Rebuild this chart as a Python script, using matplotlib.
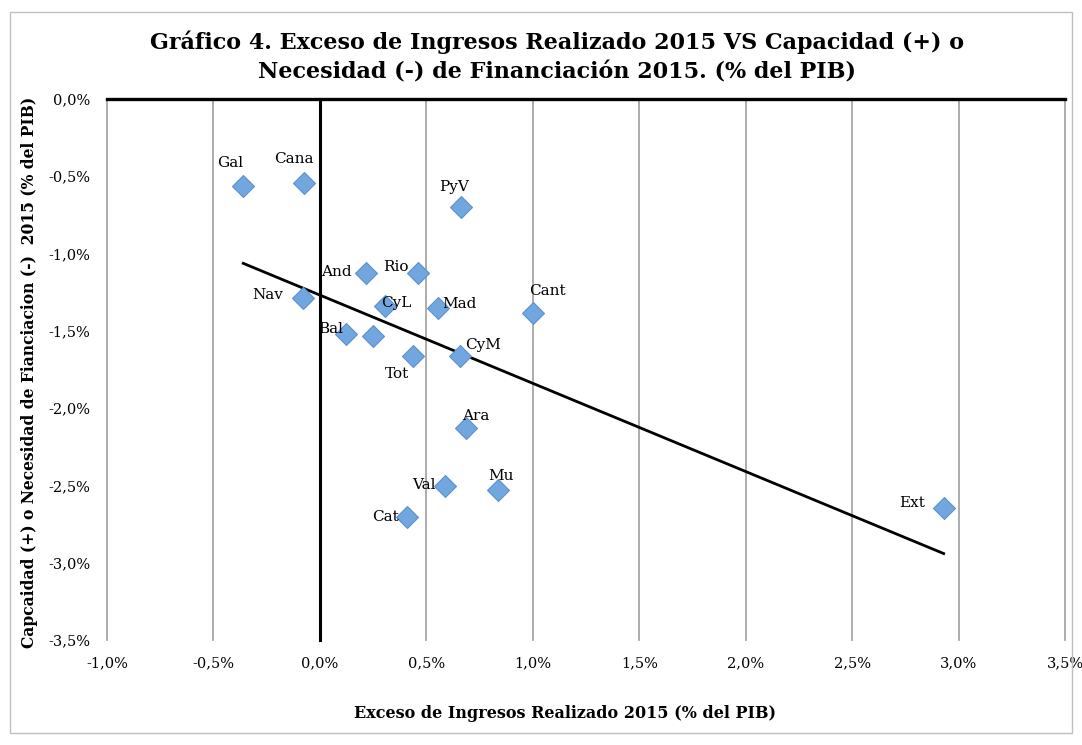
import numpy as np
import matplotlib
matplotlib.use("Agg")
import matplotlib.pyplot as plt
from matplotlib.ticker import FuncFormatter, MultipleLocator
from matplotlib.patches import Rectangle

# ---- data (% del PIB) ----
regions = ["Gal", "Cana", "PyV", "And", "Rio", "Nav", "CyL", "Mad", "Cant",
           "Bal", "", "Tot", "CyM", "Ara", "Val", "Mu", "Cat", "Ext"]
exceso = [-0.36, -0.075, 0.662, 0.216, 0.460, -0.080, 0.305, 0.554, 1.000,
          0.122, 0.249, 0.437, 0.657, 0.685, 0.587, 0.836, 0.408, 2.930]
capnec = [-0.563, -0.543, -0.699, -1.126, -1.126, -1.287, -1.339, -1.352, -1.384,
          -1.520, -1.533, -1.663, -1.663, -2.128, -2.504, -2.530, -2.704, -2.646]

x_ticks = [-1.0, -0.5, 0.0, 0.5, 1.0, 1.5, 2.0, 2.5, 3.0, 3.5]
y_ticks = [0.0, -0.5, -1.0, -1.5, -2.0, -2.5, -3.0, -3.5]

title = ("Gráfico 4. Exceso de Ingresos Realizado 2015 VS Capacidad (+) o\n"
         "Necesidad (-) de Financiación 2015. (% del PIB)")
xlabel = "Exceso de Ingresos Realizado 2015 (% del PIB)"
ylabel = "Capcaidad (+) o Necesidad de Fianciacion (-)  2015 (% del PIB)"

# label placement (pixel offsets, alignment) — styling only
label_pos = {
    "Gal": (-13, 23, "center"), "Cana": (-10, 24, "center"), "PyV": (-7, 20, "center"),
    "And": (-14, 1, "right"), "Rio": (-9, 6, "right"), "Nav": (-20, 3, "right"),
    "CyL": (-4, 3, "left"), "Mad": (4, 4, "left"), "Cant": (15, 22, "center"),
    "Bal": (-3, 5, "right"), "Tot": (-16, -18, "center"), "CyM": (23, 11, "center"),
    "Ara": (10, 12, "center"), "Val": (-9, 1, "right"), "Mu": (3, 14, "center"),
    "Cat": (-8, 0, "right"), "Ext": (-19, 5, "right"),
}

plt.rcParams['font.family'] = ['serif']
plt.rcParams['font.serif'] = ['DejaVu Serif']

fig = plt.figure(figsize=(10.82, 7.45), dpi=100)
ax = fig.add_axes([107/1082, 1-640/745, (1065-107)/1082, (640-99)/745])

fig.patches.append(Rectangle((10/1082, 12/745), (1072-10)/1082, (733-12)/745,
                             transform=fig.transFigure, fill=False,
                             edgecolor="#bfbfbf", lw=1.0, zorder=0))

ax.set_xlim(x_ticks[0], x_ticks[-1])
ax.set_ylim(y_ticks[-1], y_ticks[0])
ax.xaxis.set_major_locator(MultipleLocator(0.5))
ax.yaxis.set_major_locator(MultipleLocator(0.5))
fmt = FuncFormatter(lambda v, p: f"{v:.1f}%".replace(".", ",").replace("−", "-"))
ax.xaxis.set_major_formatter(fmt)
ax.yaxis.set_major_formatter(fmt)
for s in ax.spines.values():
    s.set_visible(False)
ax.tick_params(length=0, labelsize=10.5, colors="black")
ax.tick_params(axis="x", pad=12)
ax.tick_params(axis="y", pad=12)

for xv in x_ticks:
    if xv != 0.0:
        ax.axvline(xv, color="#a6a6a6", lw=1.3, zorder=1, clip_on=False)
ax.axvline(0.0, color="black", lw=2.2, zorder=2, clip_on=False)
ax.axhline(0.0, color="black", lw=2.4, zorder=2, clip_on=False)

# linear trend line
xa = np.array(exceso)
ya = np.array(capnec)
b, a = np.polyfit(xa, ya, 1)
xt = np.array([xa.min(), xa.max()])
ax.plot(xt, a + b * xt, color="black", lw=2.0, zorder=3)

ax.scatter(exceso, capnec, marker="D", s=125, facecolor="#72a6df",
           edgecolor="#5b92cf", linewidth=0.8, zorder=4)

for r, xv, yv in zip(regions, exceso, capnec):
    if not r:
        continue
    dx, dy, ha = label_pos[r]
    ax.annotate(r, (xv, yv), xytext=(dx, dy), textcoords="offset pixels",
                ha=ha, va="center", fontsize=11, zorder=5)

fig.text(557/1082, 1-57/745, title, ha="center", va="center", fontsize=16,
         fontweight="bold", linespacing=1.45)
fig.text(565/1082, 1-713/745, xlabel, ha="center", va="center", fontsize=11.5,
         fontweight="bold")
fig.text(30/1082, 1-372/745, ylabel, ha="center", va="center", fontsize=11.2,
         fontweight="bold", rotation=90)

fig.savefig("out.png", dpi=100)
